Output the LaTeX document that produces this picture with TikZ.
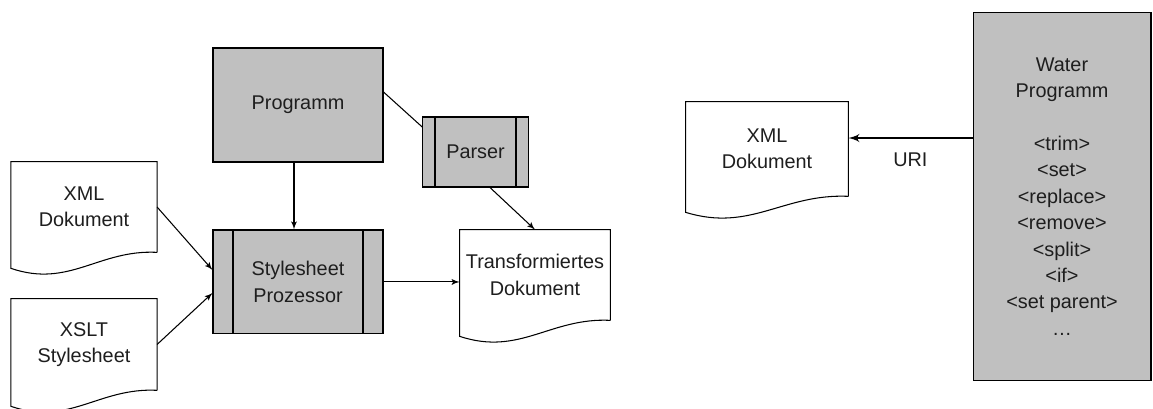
\documentclass[tikz,border=0pt]{standalone}
\usepackage{fontspec}
\setmainfont{Liberation Sans}
\usepackage{xcolor}
\usetikzlibrary{arrows,positioning,calc}

\definecolor{boxgray}{HTML}{C0C0C0}
\definecolor{inkgray}{HTML}{1E1E1E}

\tikzset{
  block/.style={draw,fill=boxgray,line width=0.6pt,align=center,text=inkgray,font=\fontsize{11.3}{15}\selectfont},
  docnode/.style={align=center,text=inkgray,font=\fontsize{11.3}{15}\selectfont},
  docline/.style={draw,line width=0.6pt},
  link/.style={line width=0.6pt}
}

\newcommand\docpath[1]{%
  \draw[docline] (#1.south east) -- (#1.north east) -- (#1.north west) -- ($(#1.south west)+(0,16)$)
    .. controls ($(#1.south west)!0.4!(#1.south east)+(0,36)$) and ($(#1.south west)!0.6!(#1.south east)+(0,-3)$) .. (#1.south east);}
\newcommand\procbars[1]{%
  \draw[link] ($(#1.north west)!0.12!(#1.north east)$) -- ($(#1.south west)!0.12!(#1.south east)$)
    ($(#1.north west)!0.88!(#1.north east)$) -- ($(#1.south west)!0.88!(#1.south east)$);}

\begin{document}
\begin{tikzpicture}[x=0.02cm,y=-0.02cm,>=latex',on grid]
  \useasboundingbox (0,0) rectangle (1153,409);

  \node[block,minimum width=3.4cm,minimum height=2.28cm]   (prog)   at (298,105)   {Programm};
  \node[block,minimum width=3.4cm,minimum height=2.08cm]   (proz)   [below=3.54cm of prog] {Stylesheet\\Prozessor};
  \node[block,minimum width=2.11cm,minimum height=1.4cm]   (parser) at (475.5,152) {Parser};
  \node[docnode,minimum width=2.91cm,minimum height=1.8cm] (xmlA)   at (84,207)    {XML\\Dokument};
  \node[docnode,minimum width=2.91cm,minimum height=1.82cm] (xslt)  [below=2.75cm of xmlA] {XSLT\\Stylesheet};
  \node[docnode,minimum width=2.9cm,minimum height=1.8cm]  (trans)  at (535,275)   {Transformiertes\\Dokument};
  \node[docnode,minimum width=3.24cm,minimum height=1.88cm] (xmlB)  at (767,149)   {XML\\Dokument};
  \node[block,minimum width=3.56cm,minimum height=7.38cm]  (water)  at (1062,196.5)
    {Water\\Programm\\[15pt]<trim>\\<set>\\<replace>\\<remove>\\<split>\\<if>\\<set parent>\\\dots};

  \docpath{xmlA}
  \docpath{xslt}
  \docpath{trans}
  \docpath{xmlB}
  \procbars{proz}
  \procbars{parser}

  \draw[link,->] ([xshift=-0.08cm]prog.south) -- ([xshift=-0.08cm]proz.north);
  \draw[link] ([yshift=0.26cm]prog.east) -- ([yshift=0.5cm]parser.west);
  \draw[link,->] ([xshift=0.29cm]parser.south) -- (trans.north);
  \draw[link,->] (xmlA.east) -- ([yshift=0.24cm]proz.west);
  \draw[link,->] (xslt.east) -- ([yshift=-0.22cm]proz.west);
  \draw[link,->] (proz.east) -- (proz.east -| trans.west);

  \coordinate (uri) at ([yshift=0.22cm]xmlB.east);
  \draw[line width=1.2pt,->] (uri -| water.west) -- node[midway,yshift=-0.44cm,text=inkgray,font=\fontsize{11.3}{15}\selectfont] {URI} (uri);
\end{tikzpicture}
\end{document}
